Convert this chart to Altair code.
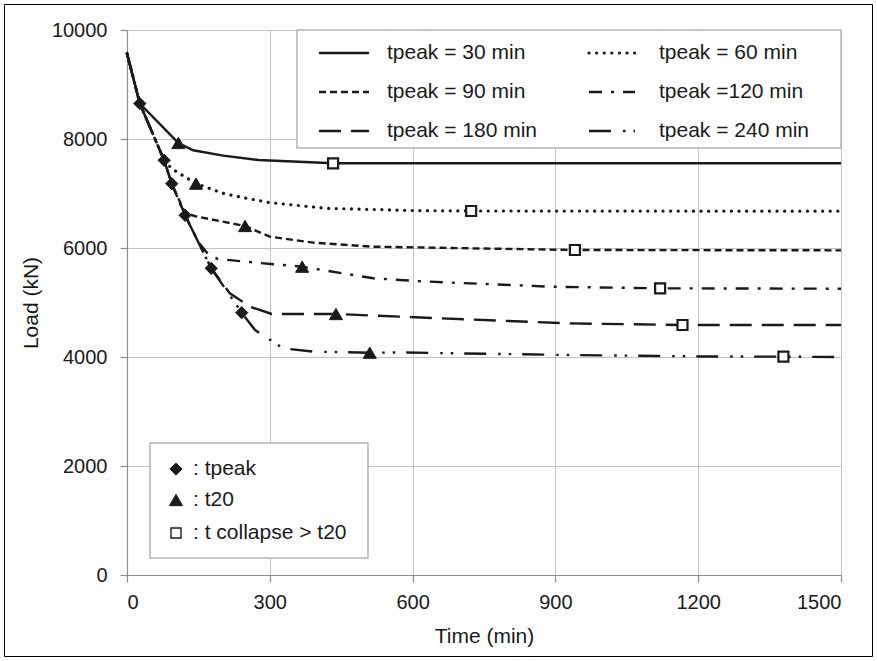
import altair as alt
import pandas as pd

# Axial load (kN) against time (min) for each heating duration tpeak
t_30 = [0, 27, 108, 139, 202, 276, 433, 1500]
p_30 = [9570, 8650, 7927, 7793, 7694, 7615, 7554, 7554]
t_60 = [0, 27, 78, 94, 145, 202, 237, 300, 419, 615, 723, 1500]
p_60 = [9570, 8650, 7609, 7455, 7181, 7003, 6936, 6832, 6728, 6685, 6679, 6675]
t_90 = [0, 27, 78, 94, 122, 145, 248, 300, 391, 517, 941, 1500]
p_90 = [9570, 8650, 7609, 7181, 6640, 6580, 6404, 6208, 6098, 6024, 5963, 5957]
t_120 = [0, 27, 78, 94, 122, 150, 170, 190, 260, 368, 517, 615, 889, 1120, 1500]
p_120 = [9570, 8650, 7609, 7181, 6600, 6110, 5890, 5800, 5740, 5657, 5444, 5390, 5290, 5260, 5253]
t_180 = [0, 27, 78, 94, 122, 177, 216, 258, 304, 439, 573, 924, 1167, 1500]
p_180 = [9570, 8650, 7609, 7181, 6600, 5627, 5169, 4923, 4789, 4789, 4740, 4618, 4587, 4587]
t_240 = [0, 27, 78, 94, 122, 177, 241, 269, 328, 391, 510, 573, 900, 1204, 1379, 1500]
p_240 = [9570, 8650, 7609, 7181, 6600, 5627, 4813, 4495, 4159, 4098, 4079, 4083, 4040, 4010, 4006, 4000]

# Event markers: end of heating, return to 20 C, collapse
tpeak_t = [27, 78, 94, 122, 177, 241]
tpeak_p = [8650, 7609, 7181, 6600, 5627, 4813]
t20_t = [108, 145, 248, 368, 439, 510]
t20_p = [7927, 7181, 6404, 5657, 4789, 4079]
tcol_t = [433, 723, 941, 1120, 1167, 1379]
tcol_p = [7554, 6679, 5963, 5260, 4587, 4006]

series_labels = ["tpeak = 30 min", "tpeak = 60 min", "tpeak = 90 min",
                 "tpeak =120 min", "tpeak = 180 min", "tpeak = 240 min"]
marker_labels = [": tpeak", ": t20", ":  t collapse > t20"]
x_ticks = [0, 300, 600, 900, 1200, 1500]
y_ticks = [0, 2000, 4000, 6000, 8000, 10000]

FONT = "Liberation Sans"
INK = "#1a1a1a"
W, H = 714, 545

styles = [
    dict(strokeWidth=2.4),
    dict(strokeWidth=3.2, strokeDash=[0.1, 7.5], strokeCap="round"),
    dict(strokeWidth=2.4, strokeDash=[7, 4]),
    dict(strokeWidth=2.4, strokeDash=[13, 9, 3, 9]),
    dict(strokeWidth=2.4, strokeDash=[22, 10]),
    dict(strokeWidth=2.4, strokeDash=[22, 12, 2.5, 8, 2.5, 11]),
]
series = [(t_30, p_30), (t_60, p_60), (t_90, p_90),
          (t_120, p_120), (t_180, p_180), (t_240, p_240)]

xs = alt.Scale(domain=[0, 1500], nice=False)
ys = alt.Scale(domain=[0, 10000], nice=False)

x_axis = alt.Axis(values=x_ticks, format="d", title="Time (min)", titlePadding=13, labelPadding=10)
y_axis = alt.Axis(values=y_ticks, format="d", title="Load (kN)", titlePadding=10, labelPadding=13)

def xenc():
    return alt.X("t:Q", scale=xs, axis=x_axis)

def yenc():
    return alt.Y("p:Q", scale=ys, axis=y_axis)

layers = []
one = alt.Data(values=[{"k": 0}])

# legend boxes (opaque, hide the grid beneath)
layers.append(alt.Chart(one).mark_rect(fill="white", stroke="#b4b4b4", strokeWidth=1.5).encode(
    x=alt.value(170), x2=alt.value(714), y=alt.value(0), y2=alt.value(118)))
layers.append(alt.Chart(one).mark_rect(fill="white", stroke="#b4b4b4", strokeWidth=1.5).encode(
    x=alt.value(23), x2=alt.value(241), y=alt.value(413), y2=alt.value(528)))

for (tt, pp), st in zip(series, styles):
    df = pd.DataFrame({"t": tt, "p": pp})
    layers.append(alt.Chart(df).mark_line(color=INK, **st).encode(x=xenc(), y=yenc()))

def markers(tt, pp, shape, size, fill, sw):
    df = pd.DataFrame({"t": tt, "p": pp})
    return alt.Chart(df).mark_point(shape=shape, size=size, filled=True, fill=fill,
                                    stroke=INK, strokeWidth=sw, opacity=1).encode(
        x=xenc(), y=yenc())

layers.append(markers(tpeak_t, tpeak_p, "diamond", 150, INK, 1))
layers.append(markers(t20_t, t20_p, "triangle-up", 170, INK, 1))
layers.append(markers(tcol_t, tcol_p, "square", 100, "white", 2.2))

# line legend entries (two columns, three rows)
row_y = [23, 62, 101]
col_rule = [(192, 242), (462, 508)]
col_text = [260, 532]
for i, (lab, st) in enumerate(zip(series_labels, styles)):
    c, r = i % 2, i // 2
    layers.append(alt.Chart(one).mark_rule(color=INK, **st).encode(
        x=alt.value(col_rule[c][0]), x2=alt.value(col_rule[c][1]), y=alt.value(row_y[r])))
    layers.append(alt.Chart(one).mark_text(align="left", baseline="middle", font=FONT,
                                           fontSize=21, color=INK).encode(
        x=alt.value(col_text[c]), y=alt.value(row_y[r]), text=alt.value(lab)))

# marker legend entries
mk_y = [439, 470, 503]
mk_shape = [("diamond", 150, INK, 1), ("triangle-up", 170, INK, 1), ("square", 100, "white", 1.4)]
for lab, y, (shape, size, fill, sw) in zip(marker_labels, mk_y, mk_shape):
    layers.append(alt.Chart(one).mark_point(shape=shape, size=size, filled=True, fill=fill,
                                            stroke=INK, strokeWidth=sw, opacity=1).encode(
        x=alt.value(49), y=alt.value(y)))
    layers.append(alt.Chart(one).mark_text(align="left", baseline="middle", font=FONT,
                                           fontSize=21, color=INK).encode(
        x=alt.value(66), y=alt.value(y), text=alt.value(lab)))

# thin frame around the figure
layers.append(alt.Chart(one).mark_rect(fill="transparent", stroke="black", strokeWidth=1).encode(
    x=alt.value(-122.5), x2=alt.value(745.5), y=alt.value(-25.5), y2=alt.value(626.5)))

chart = alt.layer(*layers).properties(
    width=W, height=H,
    autosize=alt.AutoSizeParams(type="none"),
    padding={"left": 127, "top": 30, "right": 36, "bottom": 86},
    background="white",
).configure_view(strokeWidth=0).configure_axis(
    domainColor="#8c8c8c", domainWidth=1.2,
    tickColor="#8c8c8c", tickSize=7, tickWidth=1.2,
    gridColor="#c4c4c4", gridWidth=1,
    labelFont=FONT, labelFontSize=20, labelColor=INK,
    titleFont=FONT, titleFontSize=21, titleFontWeight="normal", titleColor=INK,
)

chart.save("out.html", embed_options={"renderer": "svg", "actions": False})
